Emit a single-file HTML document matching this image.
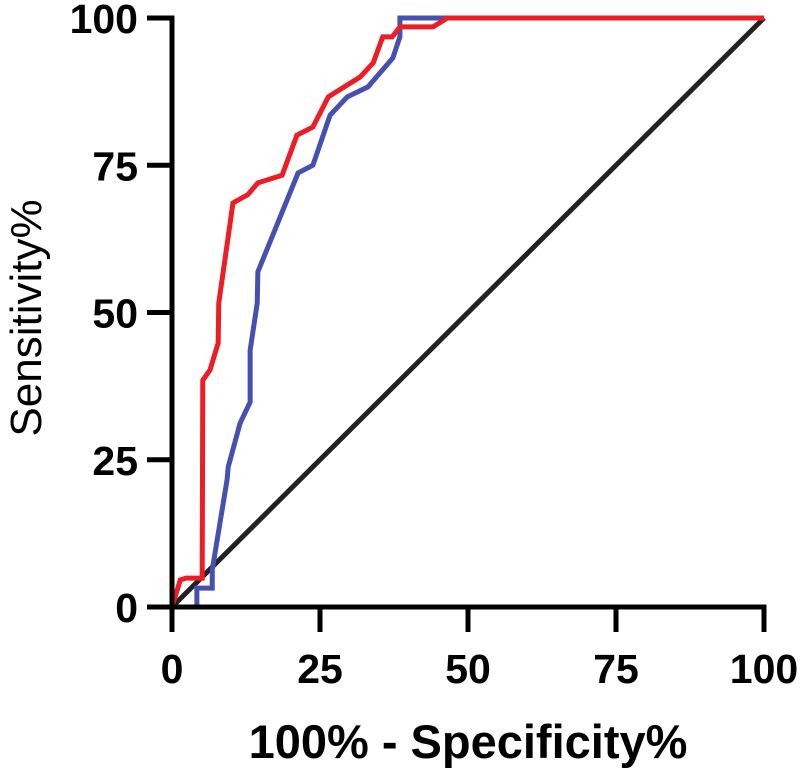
<!DOCTYPE html>
<html><head><meta charset="utf-8"><style>
body{margin:0;background:#fff;}
svg{display:block;font-family:"Liberation Sans",Arial,sans-serif;}
</style></head><body>
<svg id="chart" width="800" height="770" viewBox="0 0 800 770" xmlns="http://www.w3.org/2000/svg"></svg>
<script>
const xTicks = [0, 25, 50, 75, 100];
const yTicks = [0, 25, 50, 75, 100];
const redX = [0, 1.4, 2.4, 5.1, 5.2, 6.4, 7.8, 7.9, 10.3, 12.8, 14.5, 18.6, 21.1, 23.8, 26.4, 31.8, 34, 35.6, 37.2, 38.5, 44.1, 46.5, 100];
const redY = [0, 4.6, 4.9, 4.9, 38.5, 40.2, 44.8, 51.6, 68.6, 70, 72, 73.3, 80.1, 81.5, 86.6, 90, 92.4, 96.8, 96.8, 98.5, 98.5, 100, 100];
const blueX = [0, 4.2, 4.2, 6.8, 6.8, 9.3, 9.5, 11.5, 13.2, 13.2, 14.4, 14.5, 21.3, 23.8, 26.7, 29.6, 33.1, 37.3, 38.5, 38.5, 100];
const blueY = [0, 0, 3.2, 3.2, 6.3, 21.6, 23.8, 31.2, 34.8, 43.6, 51.6, 56.9, 73.7, 75, 83.5, 86.6, 88.3, 93.2, 96.8, 100, 100];
const refX = [0, 100];
const refY = [0, 100];

const X0 = 172, X1 = 764, Y0 = 607, Y1 = 18;
const sx = v => X0 + (v / 100) * (X1 - X0);
const sy = v => Y0 - (v / 100) * (Y0 - Y1);
const svg = document.getElementById('chart');
const NS = 'http://www.w3.org/2000/svg';
function mk(tag, attrs) {
  const e = document.createElementNS(NS, tag);
  for (const k in attrs) e.setAttribute(k, attrs[k]);
  svg.appendChild(e);
  return e;
}
function line(xs, ys, color, name) {
  const pts = xs.map((x, i) => sx(x) + ',' + sy(ys[i])).join(' ');
  const p = mk('polyline', {points: pts, fill: 'none', stroke: color, 'stroke-width': 5, 'stroke-linejoin': 'miter'});
  
  
}
line(refX, refY, '#222222', 'reference-line');
line(blueX, blueY, '#4650b0', 'roc-curve-blue');
line(redX, redY, '#ee1c24', 'roc-curve-red');

const ya = mk('line', {x1: X0, y1: Y1 - 2.5, x2: X0, y2: Y0 + 25, stroke: '#000', 'stroke-width': 5});


const xa = mk('line', {x1: X0 - 25, y1: Y0, x2: X1 + 2.5, y2: Y0, stroke: '#000', 'stroke-width': 5});



xTicks.forEach(v => {
  const t = mk('line', {x1: sx(v), y1: Y0, x2: sx(v), y2: Y0 + 25, stroke: '#000', 'stroke-width': 5});
  
  
  const l = mk('text', {x: sx(v), y: 683, 'text-anchor': 'middle', 'font-size': 41, 'font-weight': 'bold', fill: '#000'});
  l.textContent = v;
  
  
});
yTicks.forEach(v => {
  const t = mk('line', {x1: X0 - 25, y1: sy(v), x2: X0, y2: sy(v), stroke: '#000', 'stroke-width': 5});
  
  
  const l = mk('text', {x: 138, y: sy(v) + 15, 'text-anchor': 'end', 'font-size': 41, 'font-weight': 'bold', fill: '#000'});
  l.textContent = v;
  
  
});
const xt = mk('text', {x: 468, y: 758, 'text-anchor': 'middle', 'font-size': 47, 'font-weight': 'bold', fill: '#000'});
xt.textContent = '100% - Specificity%';


const yt = mk('text', {x: 0, y: 0, 'text-anchor': 'middle', 'font-size': 44, fill: '#000', transform: 'translate(41,318) rotate(-90)'});
yt.textContent = 'Sensitivity%';


</script>
</body></html>
